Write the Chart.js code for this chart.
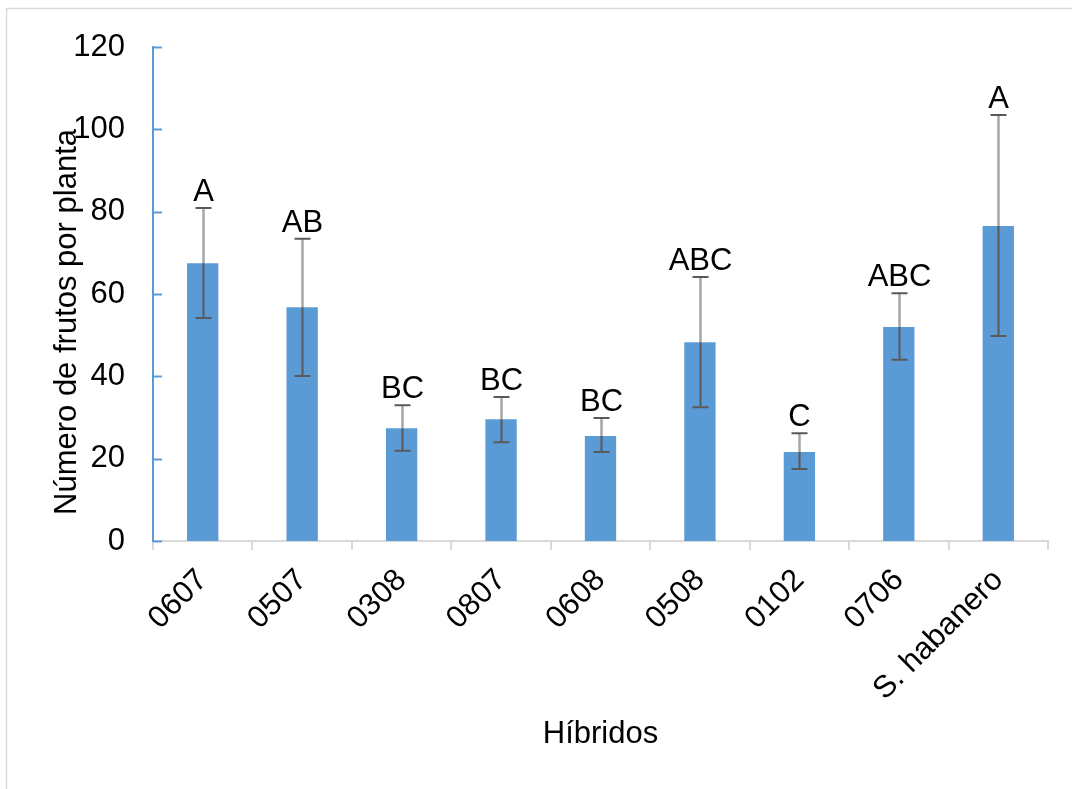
<!DOCTYPE html>
<html>
<head>
<meta charset="utf-8">
<script src="https://cdn.jsdelivr.net/npm/chart.js@4.4.1/dist/chart.umd.min.js"></script>
<style>
  html, body { margin: 0; padding: 0; background: #fff; }
</style>
</head>
<body>
<canvas id="frutosChart" width="1072" height="789"></canvas>
<script>
// Datos
const hibridos = ['0607', '0507', '0308', '0807', '0608', '0508', '0102', '0706', 'S. habanero'];
const frutos = [67.5, 56.8, 27.4, 29.6, 25.5, 48.3, 21.6, 52.0, 76.5];
const errorSup = [80.9, 73.4, 33.0, 35.0, 29.9, 64.1, 26.2, 60.2, 103.5];
const errorInf = [54.2, 40.1, 21.9, 24.0, 21.6, 32.5, 17.5, 44.0, 49.8];
const letras = ['A', 'AB', 'BC', 'BC', 'BC', 'ABC', 'C', 'ABC', 'A'];
const yMax = 120;
const yStep = 20;

const FONT = '"Liberation Sans", Arial, sans-serif';
const azul = '#5B9BD5';

// marco gris del grafico
const marco = {
    id: 'marco',
    beforeDraw(chart) {
        const ctx = chart.ctx;
        ctx.save();
        ctx.fillStyle = '#fff';
        ctx.fillRect(0, 0, chart.width, chart.height);
        ctx.strokeStyle = '#d9d9d9';
        ctx.lineWidth = 1.5;
        ctx.strokeRect(6.5, 8.5, chart.width + 20, chart.height + 20);
        ctx.restore();
    }
};

// marcas hacia dentro en el eje Y
const marcasY = {
    id: 'marcasY',
    afterDraw(chart) {
        const y = chart.scales.y;
        const ctx = chart.ctx;
        ctx.save();
        ctx.strokeStyle = azul;
        ctx.lineWidth = 2;
        y.ticks.forEach(t => {
            const py = Math.round(y.getPixelForValue(t.value)) + 0.5;
            ctx.beginPath();
            ctx.moveTo(y.right, py);
            ctx.lineTo(y.right + 9, py);
            ctx.stroke();
        });
        ctx.restore();
    }
};

// barras de error y letras
const barrasError = {
    id: 'barrasError',
    afterDatasetsDraw(chart) {
        const ctx = chart.ctx;
        const y = chart.scales.y;
        const meta = chart.getDatasetMeta(0);
        ctx.save();
        meta.data.forEach((bar, i) => {
            const x = Math.round(bar.x) + 0.5;
            const pTop = y.getPixelForValue(errorSup[i]);
            const pBot = y.getPixelForValue(errorInf[i]);
            const pVal = y.getPixelForValue(frutos[i]);

            ctx.strokeStyle = '#a6a6a6';
            ctx.lineWidth = 2.5;
            ctx.beginPath();
            ctx.moveTo(x, pTop);
            ctx.lineTo(x, pVal);
            ctx.stroke();

            ctx.strokeStyle = '#595959';
            ctx.lineWidth = 2;
            ctx.beginPath();
            ctx.moveTo(x, pVal);
            ctx.lineTo(x, pBot);
            ctx.moveTo(x - 8, pTop);
            ctx.lineTo(x + 8, pTop);
            ctx.moveTo(x - 8, pBot);
            ctx.lineTo(x + 8, pBot);
            ctx.stroke();

            ctx.fillStyle = '#000';
            ctx.font = '31px ' + FONT;
            ctx.textAlign = 'center';
            ctx.textBaseline = 'alphabetic';
            ctx.fillText(letras[i], x, pTop - 7);
        });
        ctx.restore();
    }
};

// titulo del eje Y
const tituloY = {
    id: 'tituloY',
    afterDraw(chart) {
        const ctx = chart.ctx;
        ctx.save();
        ctx.translate(67, 322);
        ctx.rotate(-Math.PI / 2);
        ctx.fillStyle = '#000';
        ctx.font = '31px ' + FONT;
        ctx.textAlign = 'center';
        ctx.textBaseline = 'middle';
        ctx.fillText('Número de frutos por planta', 0, 0);
        ctx.restore();
    }
};

new Chart(document.getElementById('frutosChart'), {
    type: 'bar',
    data: {
        labels: hibridos,
        datasets: [{
            data: frutos,
            backgroundColor: azul,
            borderWidth: 0,
            barPercentage: 1,
            categoryPercentage: 0.315
        }]
    },
    options: {
        responsive: false,
        animation: false,
        devicePixelRatio: 1,
        layout: { padding: { left: 6, top: 47, right: 24, bottom: 0 } },
        plugins: {
            legend: { display: false },
            tooltip: { enabled: false }
        },
        scales: {
            x: {
                grid: {
                    display: true,
                    drawOnChartArea: false,
                    drawTicks: true,
                    tickLength: 9,
                    color: '#d9d9d9',
                    lineWidth: 2,
                    offset: true
                },
                border: { color: '#d9d9d9', width: 2 },
                ticks: {
                    color: '#000',
                    font: { family: FONT, size: 31 },
                    maxRotation: 45,
                    minRotation: 45,
                    autoSkip: false,
                    padding: 12
                },
                title: {
                    display: true,
                    text: 'Híbridos',
                    color: '#000',
                    font: { family: FONT, size: 31 },
                    padding: { top: 36, bottom: 36 }
                },
                afterFit(scale) {
                    scale.height = 248;
                    scale.paddingLeft = 0;
                    scale.paddingRight = 0;
                }
            },
            y: {
                min: 0,
                max: yMax,
                grid: { display: false, drawTicks: false },
                border: { color: azul, width: 2 },
                ticks: {
                    stepSize: yStep,
                    color: '#000',
                    font: { family: FONT, size: 31 },
                    padding: 28
                },
                afterFit(scale) {
                    scale.width = 147;
                    scale.paddingTop = 0;
                    scale.paddingBottom = 0;
                }
            }
        }
    },
    plugins: [marco, marcasY, barrasError, tituloY]
});
</script>
</body>
</html>
